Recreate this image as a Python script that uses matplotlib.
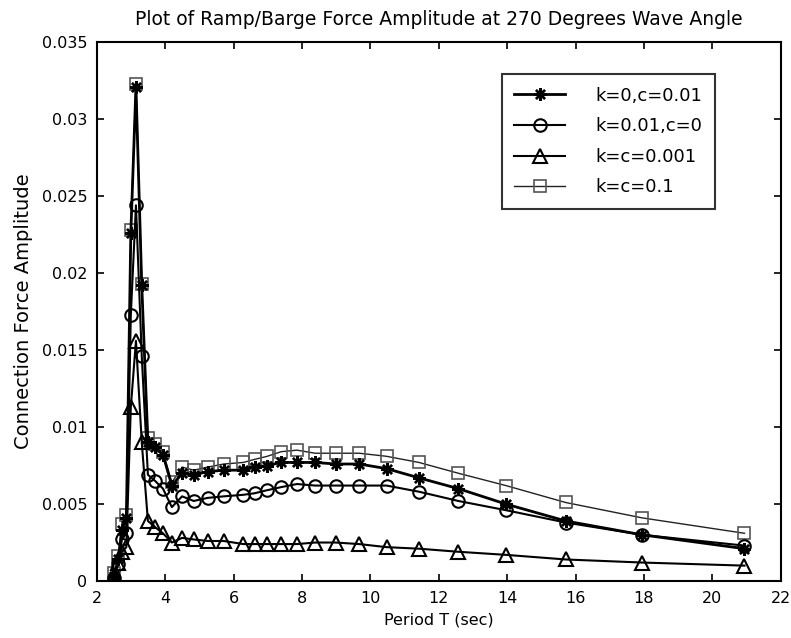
import matplotlib
matplotlib.use("Agg")
import matplotlib.pyplot as plt

plt.rcParams['font.family'] = ['DejaVu Sans']

period = [2.51, 2.62, 2.73, 2.86, 2.99, 3.14, 3.31, 3.49, 3.70, 3.93, 4.19,
          4.49, 4.83, 5.24, 5.71, 6.28, 6.61, 6.98, 7.39, 7.85, 8.38, 8.98,
          9.67, 10.47, 11.42, 12.57, 13.96, 15.71, 17.95, 20.94]

k0_c001 = [0.0003, 0.0014, 0.0033, 0.0041, 0.0226, 0.0321, 0.0192, 0.0090, 0.0087, 0.0082, 0.0062,
           0.0070, 0.0069, 0.0071, 0.0072, 0.0072, 0.0074, 0.0075, 0.0077, 0.0077, 0.0077, 0.0076,
           0.0076, 0.0073, 0.0067, 0.0060, 0.0050, 0.0039, 0.0030, 0.0021]
k001_c0 = [0.0002, 0.0011, 0.0027, 0.0031, 0.0173, 0.0244, 0.0146, 0.0069, 0.0065, 0.0060, 0.0048,
           0.0055, 0.0052, 0.0054, 0.0055, 0.0056, 0.0057, 0.0059, 0.0061, 0.0063, 0.0062, 0.0062,
           0.0062, 0.0062, 0.0058, 0.0052, 0.0046, 0.0038, 0.0030, 0.0023]
kc0001 = [0.0003, 0.0012, 0.0019, 0.0022, 0.0113, 0.0156, 0.0090, 0.0039, 0.0035, 0.0031, 0.0025,
          0.0028, 0.0027, 0.0026, 0.0026, 0.0024, 0.0024, 0.0024, 0.0024, 0.0024, 0.0025, 0.0025,
          0.0024, 0.0022, 0.0021, 0.0019, 0.0017, 0.0014, 0.0012, 0.0010]
kc01 = [0.0005, 0.0016, 0.0037, 0.0043, 0.0228, 0.0323, 0.0193, 0.0093, 0.0089, 0.0084, 0.0064,
        0.0074, 0.0072, 0.0074, 0.0076, 0.0077, 0.0079, 0.0081, 0.0084, 0.0085, 0.0083, 0.0083,
        0.0083, 0.0081, 0.0077, 0.0070, 0.0062, 0.0051, 0.0041, 0.0031]

labels = ['k=0,c=0.01', 'k=0.01,c=0', 'k=c=0.001', 'k=c=0.1']
xticks = [2, 4, 6, 8, 10, 12, 14, 16, 18, 20, 22]
yticks = [0, 0.005, 0.01, 0.015, 0.02, 0.025, 0.03, 0.035]
yticklabels = ['0', '0.005', '0.01', '0.015', '0.02', '0.025', '0.03', '0.035']

fig = plt.figure(figsize=(7.91, 6.38), dpi=100)
ax = fig.add_axes([0.1226, 0.0893, 0.8644, 0.8447])

l1, = ax.plot(period, k0_c001, color='black', lw=2.0, marker=(8, 2, 0), ms=9,
              mew=1.7, mec='black', label=labels[0], zorder=4)
l2, = ax.plot(period, k001_c0, color='black', lw=1.5, marker='o', ms=9,
              mfc='none', mec='black', mew=1.5, label=labels[1], zorder=3)
l3, = ax.plot(period, kc0001, color='black', lw=1.5, marker='^', ms=10,
              mfc='none', mec='black', mew=1.5, label=labels[2], zorder=3)
l4, = ax.plot(period, kc01, color='#222222', lw=1.0, marker='s', ms=9,
              mfc='none', mec='#555555', mew=1.2, label=labels[3], zorder=2)

ax.set_xlim(2, 22)
ax.set_ylim(0, 0.035)
ax.set_xticks(xticks)
ax.set_xticklabels([str(t) for t in xticks])
ax.set_yticks(yticks)
ax.set_yticklabels(yticklabels)
ax.tick_params(direction='in', length=5, width=1.2, top=True, right=True,
               labelsize=11.5, pad=7)
for s in ax.spines.values():
    s.set_linewidth(1.5)

ax.set_title('Plot of Ramp/Barge Force Amplitude at 270 Degrees Wave Angle',
             fontsize=13.5, pad=12)
ax.set_xlabel('Period T (sec)', fontsize=11.5, labelpad=5)
ax.set_ylabel('Connection Force Amplitude', fontsize=14, labelpad=6)

leg = ax.legend(handles=[l1, l2, l3, l4], loc='upper left',
                bbox_to_anchor=(0.592, 0.941), fontsize=13, frameon=True,
                fancybox=False, edgecolor='black', handlelength=2.8,
                handletextpad=1.7, labelspacing=0.7, borderpad=0.7,
                borderaxespad=0)
leg.get_frame().set_linewidth(1.5)

fig.savefig('out.png', dpi=100)
